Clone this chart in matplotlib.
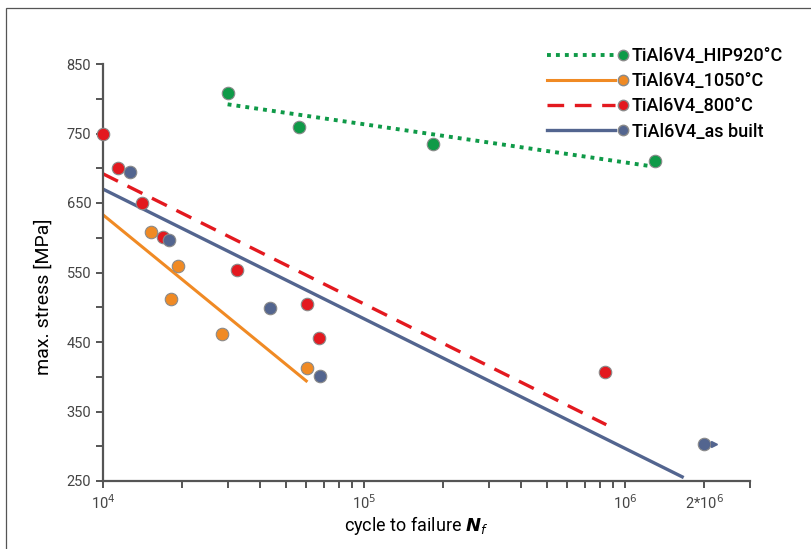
import numpy as np
import matplotlib
matplotlib.use('Agg')
import matplotlib.pyplot as plt
from matplotlib.lines import Line2D
from matplotlib.patches import Rectangle
from matplotlib.legend_handler import HandlerBase
from matplotlib.ticker import FixedLocator, FixedFormatter, NullFormatter

plt.rcParams['font.family'] = ['Roboto', 'DejaVu Sans']

# --- data ---
hip_n = [30150, 56400, 183700, 1300000]
hip_s = [808, 759, 735, 710]
hip_fit_n = [30000, 1250000]
hip_fit_s = [792, 703]

t1050_n = [15300, 19400, 18200, 28600, 60500]
t1050_s = [608, 559, 512, 461, 413]
t1050_fit_n = [10000, 60000]
t1050_fit_s = [633, 394]

t800_n = [10000, 11420, 14100, 17000, 32600, 60500, 67200, 837000]
t800_s = [750, 700, 650, 601, 554, 505, 456, 407]
t800_fit_n = [10000, 845000]
t800_fit_s = [692, 331]

built_n = [12700, 17900, 43600, 67800, 2000000]
built_s = [695, 597, 499, 401, 303]
built_fit_n = [10000, 1650000]
built_fit_s = [670, 256]

labels = ['TiAl6V4_HIP920°C', 'TiAl6V4_1050°C', 'TiAl6V4_800°C', 'TiAl6V4_as built']

GREEN = '#0f9a48'
ORANGE = '#f08a24'
RED = '#e3191f'
BLUE = '#53658f'
EDGE = '#8a8a8a'


class RightMarkerHandler(HandlerBase):
    """legend entry: line, then the marker just right of the line end"""
    def create_artists(self, legend, orig_handle, xdescent, ydescent, width, height, fontsize, trans):
        y = height / 2 - ydescent
        line = Line2D([-xdescent, -xdescent + width], [y, y])
        line.update_from(orig_handle)
        line.set_marker('')
        mk = Line2D([-xdescent + width + 0.42 * fontsize], [y])
        mk.update_from(orig_handle)
        mk.set_linestyle('none')
        line.set_transform(trans)
        mk.set_transform(trans)
        return [line, mk]


fig = plt.figure(figsize=(8.11, 5.49), dpi=100)
ax = fig.add_axes([103 / 811, 1 - 481 / 549, (750 - 103) / 811, (481 - 64) / 549])

# frame around the figure (only top/left visible in the reference)
fig.patches.append(Rectangle((6 / 811, -0.1), 1.2, 1 - 8 / 549 + 0.1, transform=fig.transFigure,
                             fill=False, edgecolor='#555555', linewidth=0.9, clip_on=False))

ms = 9
ax.plot(hip_fit_n, hip_fit_s, color=GREEN, lw=2.8, ls=(0, (1, 1.3)), zorder=2)
ax.plot(t1050_fit_n, t1050_fit_s, color=ORANGE, lw=2.2, zorder=2)
ax.plot(t800_fit_n, t800_fit_s, color=RED, lw=2.4, ls=(0, (5, 3.2)), zorder=2)
ax.plot(built_fit_n, built_fit_s, color=BLUE, lw=2.4, zorder=2)

ax.plot(hip_n, hip_s, 'o', color=GREEN, mec=EDGE, mew=0.8, ms=ms, zorder=3, clip_on=False)
ax.plot(t1050_n, t1050_s, 'o', color=ORANGE, mec=EDGE, mew=0.8, ms=ms, zorder=3, clip_on=False)
ax.plot(t800_n, t800_s, 'o', color=RED, mec=EDGE, mew=0.8, ms=ms, zorder=3, clip_on=False)
ax.plot(built_n, built_s, 'o', color=BLUE, mec=EDGE, mew=0.8, ms=ms, zorder=3, clip_on=False)
# run-out arrow on the last as-built point
ax.plot([built_n[-1] * 1.09], [built_s[-1]], '>', color=BLUE, ms=5, zorder=3)

ax.set_xscale('log')
ax.set_xlim(1e4, 3e6)
ax.set_ylim(250, 850)

major = [1e4, 1e5, 1e6, 2e6]
minor = [m * 10 ** e for e in (4, 5, 6) for m in range(2, 10) if m * 10 ** e <= 3e6 and m * 10 ** e != 2e6]
ax.xaxis.set_major_locator(FixedLocator(major))
ax.xaxis.set_major_formatter(FixedFormatter([r'10$^4$', r'10$^5$', r'10$^6$', r'2*10$^6$']))
ax.xaxis.set_minor_locator(FixedLocator(minor))
ax.xaxis.set_minor_formatter(NullFormatter())
ax.set_yticks(np.arange(250, 851, 100))
ax.set_yticks(np.arange(300, 801, 100), minor=True)

for side in ('top', 'right'):
    ax.spines[side].set_visible(False)
for side in ('left', 'bottom'):
    ax.spines[side].set_color('#555555')
    ax.spines[side].set_linewidth(1.6)
ax.tick_params(which='both', direction='out', length=5, width=1.4, color='#555555',
               labelsize=10.5, labelcolor='#444444')
ax.tick_params(axis='x', pad=4)

ax.set_ylabel('max. stress [MPa]', fontsize=14)
ax.yaxis.set_label_coords(-0.077, 0.441)
ax.set_xlabel(r'cycle to failure $\mathbfit{N}_f$', fontsize=13)
ax.xaxis.set_label_coords((416 - 103) / 647, -0.078)

handles = [
    Line2D([], [], color=GREEN, lw=2.8, ls=(0, (1, 1.3)), marker='o', mfc=GREEN, mec=EDGE, ms=7.5),
    Line2D([], [], color=ORANGE, lw=2.2, marker='o', mfc=ORANGE, mec=EDGE, ms=7.5),
    Line2D([], [], color=RED, lw=2.4, ls=(0, (5, 3.2)), marker='o', mfc=RED, mec=EDGE, ms=7.5),
    Line2D([], [], color=BLUE, lw=2.4, marker='o', mfc=BLUE, mec=EDGE, ms=7.5),
]
leg = ax.legend(handles, labels, loc='upper left', bbox_to_anchor=(547 / 811, 1 - 47 / 549),
                bbox_transform=fig.transFigure, frameon=False, handlelength=3.77,
                prop={'size': 13, 'weight': 'medium'},
                handletextpad=0.92, labelspacing=0.4, borderaxespad=0, borderpad=0,
                handler_map={Line2D: RightMarkerHandler()})

fig.savefig('out.png', dpi=100)
